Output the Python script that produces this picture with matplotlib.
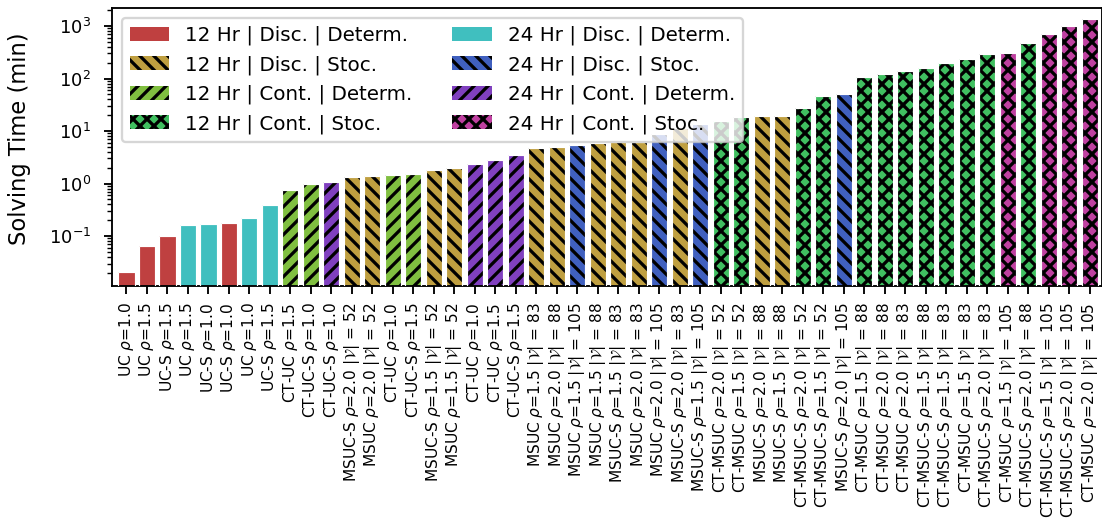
"""
Solving time per model configuration, log-scale bar chart
with colour/hatch per horizon, network type and uncertainty.
"""
import matplotlib
matplotlib.use('Agg')
import matplotlib.pyplot as plt
from matplotlib.patches import Patch

DPI = 168
plt.rcParams['hatch.linewidth'] = 1.4

V = r'$|\mathcal{V}|$'
R = r'$\rho$'

labels = [
    f'UC {R}=1.0', f'UC {R}=1.5', f'UC-S {R}=1.5', f'UC {R}=1.5',
    f'UC-S {R}=1.0', f'UC-S {R}=1.0', f'UC {R}=1.0', f'UC-S {R}=1.5',
    f'CT-UC {R}=1.5', f'CT-UC-S {R}=1.0', f'CT-UC-S {R}=1.0',
    f'MSUC-S {R}=2.0 {V} = 52', f'MSUC {R}=2.0 {V} = 52',
    f'CT-UC {R}=1.0', f'CT-UC-S {R}=1.5',
    f'MSUC-S {R}=1.5 {V} = 52', f'MSUC {R}=1.5 {V} = 52',
    f'CT-UC {R}=1.0', f'CT-UC {R}=1.5', f'CT-UC-S {R}=1.5',
    f'MSUC {R}=1.5 {V} = 83', f'MSUC {R}=2.0 {V} = 88',
    f'MSUC {R}=1.5 {V} = 105', f'MSUC {R}=1.5 {V} = 88',
    f'MSUC-S {R}=1.5 {V} = 83', f'MSUC {R}=2.0 {V} = 83',
    f'MSUC {R}=2.0 {V} = 105', f'MSUC-S {R}=2.0 {V} = 83',
    f'MSUC-S {R}=1.5 {V} = 105', f'CT-MSUC {R}=2.0 {V} = 52',
    f'CT-MSUC {R}=1.5 {V} = 52', f'MSUC-S {R}=2.0 {V} = 88',
    f'MSUC-S {R}=1.5 {V} = 88', f'CT-MSUC-S {R}=2.0 {V} = 52',
    f'CT-MSUC-S {R}=1.5 {V} = 52', f'MSUC-S {R}=2.0 {V} = 105',
    f'CT-MSUC {R}=1.5 {V} = 88', f'CT-MSUC {R}=2.0 {V} = 88',
    f'CT-MSUC {R}=2.0 {V} = 83', f'CT-MSUC-S {R}=1.5 {V} = 88',
    f'CT-MSUC-S {R}=1.5 {V} = 83', f'CT-MSUC {R}=1.5 {V} = 83',
    f'CT-MSUC-S {R}=2.0 {V} = 83', f'CT-MSUC {R}=1.5 {V} = 105',
    f'CT-MSUC-S {R}=2.0 {V} = 88', f'CT-MSUC-S {R}=1.5 {V} = 105',
    f'CT-MSUC-S {R}=2.0 {V} = 105', f'CT-MSUC {R}=2.0 {V} = 105',
]

times = [
    0.021, 0.064, 0.10, 0.16, 0.17, 0.18, 0.217, 0.39,
    0.77, 1.0, 1.06, 1.32, 1.4, 1.48, 1.53, 1.85, 1.94,
    2.4, 2.83, 3.46, 4.8, 5.0, 5.4, 6.0, 6.1, 6.2,
    8.8, 11.3, 13.5, 15.3, 18.6, 19.0, 19.0, 27.8, 47, 50,
    105, 120, 139, 158, 197, 232, 296, 306, 474, 694, 987, 1350,
]

# 0..3 -> 12 Hr, 4..7 -> 24 Hr (Disc/Determ, Disc/Stoc, Cont/Determ, Cont/Stoc)
groups = [
    0, 0, 0, 4, 4, 0, 4, 4,
    2, 2, 6, 1, 1, 2, 2, 1, 1,
    6, 6, 6, 1, 1, 5, 1, 1, 1,
    5, 1, 5, 3, 3, 1, 1, 3, 3, 5,
    3, 3, 3, 3, 3, 3, 3, 7, 3, 7, 7, 7,
]

group_names = [
    '12 Hr | Disc. | Determ.', '12 Hr | Disc. | Stoc.',
    '12 Hr | Cont. | Determ.', '12 Hr | Cont. | Stoc.',
    '24 Hr | Disc. | Determ.', '24 Hr | Disc. | Stoc.',
    '24 Hr | Cont. | Determ.', '24 Hr | Cont. | Stoc.',
]
group_colors = ['#bf4040', '#bf9f40', '#80bf40', '#40bf60',
                '#40bfbf', '#4060bf', '#8040bf', '#bf40a0']
group_hatch = ['', '\\\\\\\\', '////', 'xxxx', '', '\\\\\\\\', '////', 'xxxx']

fig = plt.figure(figsize=(1102 / DPI, 527 / DPI), dpi=DPI)
ax = fig.add_axes([0.1016, 0.4573, 0.8984, 0.5275])

x = list(range(len(times)))
fcs = [group_colors[g] for g in groups]
hatches = [group_hatch[g] for g in groups]

# hatched fill (black hatch lines), then a white outline on top
ax.bar(x, times, width=0.8, color=fcs, edgecolor='black', linewidth=0,
       hatch=hatches, zorder=2)
ax.bar(x, times, width=0.8, fill=False, edgecolor='white', linewidth=0.5,
       zorder=3)

ax.set_yscale('log')
ax.set_ylim(0.0112, 2200)
ax.set_xlim(-0.7, 47.6)
ax.set_xticks(x)
ax.set_xticklabels(labels, rotation=90, fontsize=6.6)
ax.tick_params(axis='y', labelsize=7.7, pad=5.5)
ax.set_ylabel('Solving Time (min)', fontsize=9.7)
ax.yaxis.set_label_coords(-0.082, 0.53)

handles = [Patch(facecolor=group_colors[i], edgecolor='black', linewidth=0,
                 hatch=group_hatch[i], label=group_names[i])
           for i in range(8)]
ax.legend(handles=handles, loc='upper left', ncol=2, fontsize=8.5)

fig.savefig('out.png', dpi=DPI)
